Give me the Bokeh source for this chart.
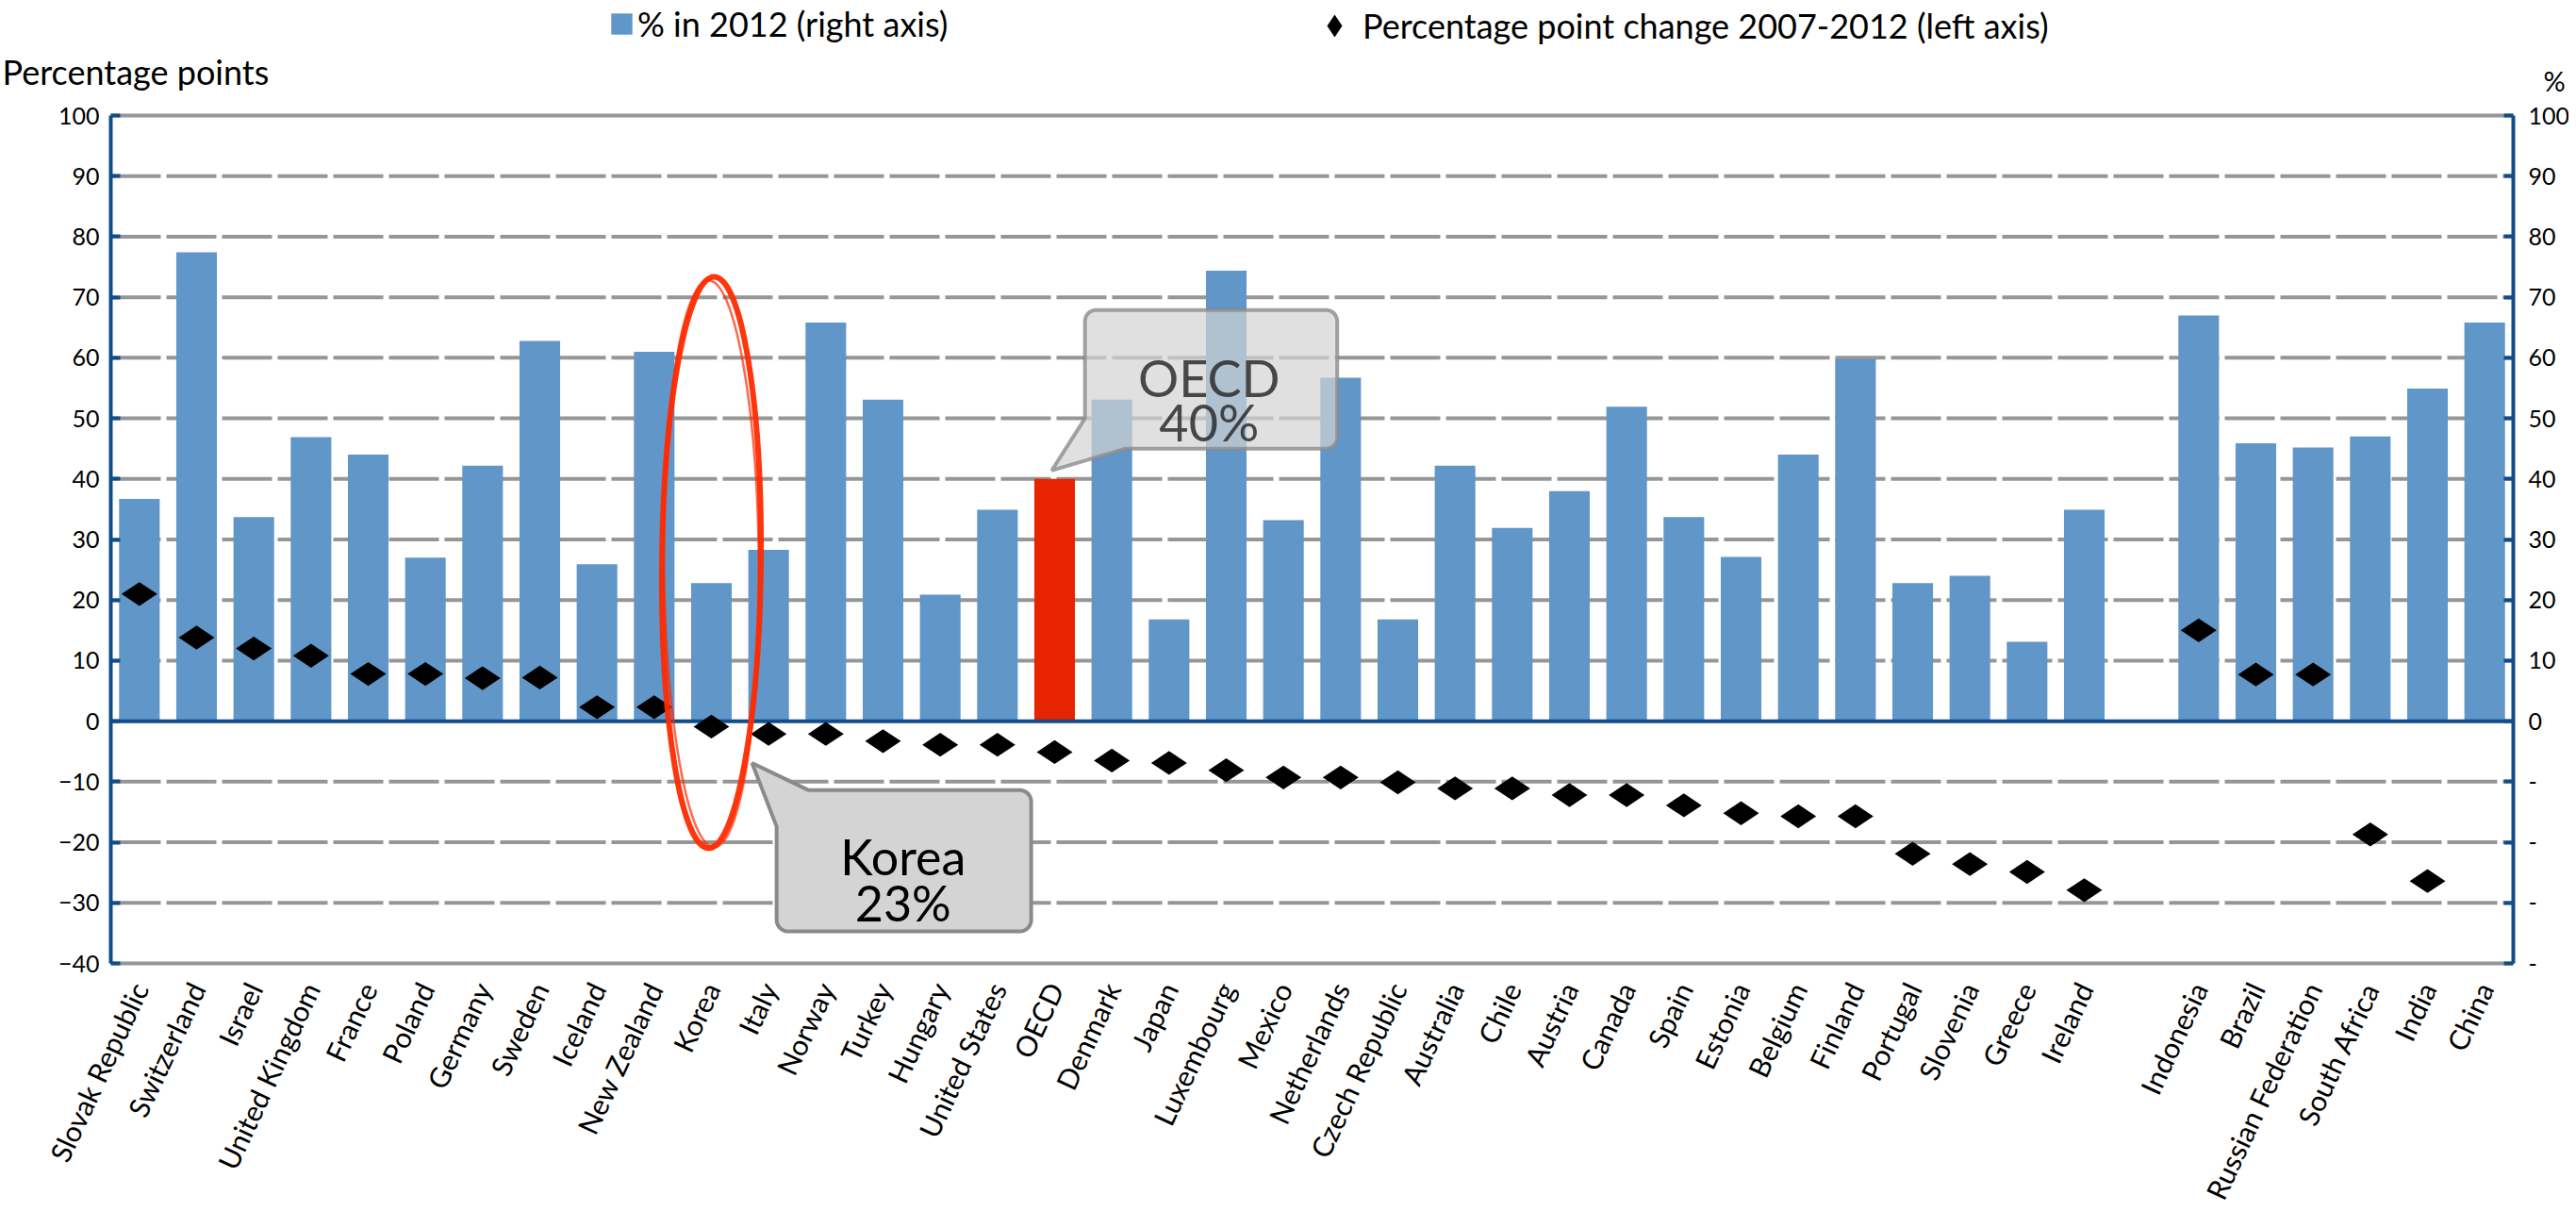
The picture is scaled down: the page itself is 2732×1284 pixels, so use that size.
import math
from bokeh.plotting import figure
from bokeh.models import (Range1d, LinearAxis, FixedTicker, Legend, LegendItem, Label)
from bokeh.embed import file_html
from bokeh.resources import INLINE

# ---------------- data ----------------
countries = ["Slovak Republic", "Switzerland", "Israel", "United Kingdom", "France",
             "Poland", "Germany", "Sweden", "Iceland", "New Zealand", "Korea", "Italy",
             "Norway", "Turkey", "Hungary", "United States", "OECD", "Denmark", "Japan",
             "Luxembourg", "Mexico", "Netherlands", "Czech Republic", "Australia", "Chile",
             "Austria", "Canada", "Spain", "Estonia", "Belgium", "Finland", "Portugal",
             "Slovenia", "Greece", "Ireland", "", "Indonesia", "Brazil",
             "Russian Federation", "South Africa", "India", "China"]

share_2012 = [36.7, 77.4, 33.7, 46.9, 44.0, 27.0, 42.2, 62.8, 25.9, 61.0, 22.8, 28.3,
              65.8, 53.1, 20.9, 34.9, 40.0, 53.1, 16.8, 74.4, 33.2, 56.7, 16.8, 42.2, 31.9,
              38.0, 51.9, 33.7, 27.1, 44.0, 59.8, 22.8, 24.0, 13.1, 34.9, None, 67.0, 45.9,
              45.2, 47.0, 54.9, 65.8]

change_2007_2012 = [21.0, 13.8, 12.0, 10.8, 7.8, 7.8, 7.1, 7.2, 2.3, 2.3, -0.9, -2.1,
                    -2.1, -3.3, -3.9, -3.9, -5.1, -6.5, -6.9, -8.1, -9.3, -9.3, -10.1, -11.1,
                    -11.1, -12.2, -12.2, -13.9, -15.2, -15.7, -15.7, -21.9, -23.6, -24.9,
                    -27.9, None, 15.0, 7.7, 7.7, -18.7, -26.4, None]

y_ticks = [-40, -30, -20, -10, 0, 10, 20, 30, 40, 50, 60, 70, 80, 90, 100]
average_name = "OECD"
highlight_name = "Korea"
legend_bar = "% in 2012 (right axis)"
legend_dot = "Percentage point change 2007-2012 (left axis)"
left_title = "Percentage points"
right_title = "%"

# ---------------- styles / geometry ----------------
FONT = "Lato"
BLUE = "#6096C8"
RED = "#E62400"
AXIS = "#0F4D8A"
GRID = "#969696"

W, H = 2724, 1276                       # canvas
PL, PR, PT, PB = 117, 2665, 122, 1021   # plot area in canvas pixels
N = len(countries)
YMIN, YMAX = y_ticks[0], y_ticks[-1]
SX = (PR - PL) / N
SY = (PB - PT) / (YMAX - YMIN)


def px(xp):   # canvas x pixel -> data x
    return (xp - PL) / SX


def py(yp):   # canvas y pixel -> data y
    return YMAX - (yp - PT) / SY


p = figure(width=W, height=H, title=None,
           x_range=Range1d(px(0), px(W)), y_range=Range1d(py(H), py(0)),
           x_axis_location=None, y_axis_location=None,
           output_backend="svg", toolbar_location=None,
           min_border_left=0, min_border_right=0, min_border_top=0, min_border_bottom=0,
           background_fill_color="white", border_fill_color="white",
           outline_line_color=None)
p.grid.visible = False

# grid lines (dashed), plot-area border lines (solid)
inner = [t for t in y_ticks if YMIN < t < YMAX and t != 0]
p.segment(x0=[0] * len(inner), x1=[N] * len(inner), y0=inner, y1=inner,
          line_color=GRID, line_width=4, line_dash="53 6")
p.segment(x0=[0, 0], x1=[N, N], y0=[YMIN, YMAX], y1=[YMIN, YMAX],
          line_color=GRID, line_width=4)


# axes (fixed at the plot-area edges)
def value_axis(loc, standoff, overrides):
    ax = LinearAxis(fixed_location=loc, bounds=(YMIN, YMAX),
                    ticker=FixedTicker(ticks=y_ticks), major_label_overrides=overrides)
    ax.axis_line_color = AXIS
    ax.axis_line_width = 4
    ax.major_tick_in = 10
    ax.major_tick_out = 0
    ax.major_tick_line_color = AXIS
    ax.major_tick_line_width = 4
    ax.minor_tick_line_color = None
    ax.major_label_text_font = FONT
    ax.major_label_text_font_size = "25px"
    ax.major_label_text_color = "black"
    ax.major_label_standoff = standoff
    return ax


p.add_layout(value_axis(0, 12, {}), "left")
p.add_layout(value_axis(N, 16, {t: "-" for t in y_ticks if t < 0}), "right")

cat_pos = [i + 0.5 for i in range(N)]
xa = LinearAxis(fixed_location=YMIN, bounds=(0, N), ticker=FixedTicker(ticks=cat_pos),
                major_label_overrides={pos: c for pos, c in zip(cat_pos, countries)})
xa.axis_line_color = None
xa.major_tick_line_color = None
xa.minor_tick_line_color = None
xa.major_label_orientation = math.radians(65)
xa.major_label_text_font = FONT
xa.major_label_text_font_size = "30px"
xa.major_label_text_color = "black"
xa.major_label_standoff = 16
p.add_layout(xa, "below")

# bars
bx = [pos for pos, c, s in zip(cat_pos, countries, share_2012) if s is not None and c != average_name]
bt = [s for c, s in zip(countries, share_2012) if s is not None and c != average_name]
ia = countries.index(average_name)
ih = countries.index(highlight_name)
avg_val, hl_val = share_2012[ia], share_2012[ih]
blue = p.vbar(x=bx, top=bt, bottom=0, width=0.71, fill_color=BLUE, line_color=None)
p.vbar(x=[cat_pos[ia]], top=[avg_val], bottom=0, width=0.71, fill_color=RED, line_color=None)

# zero line
p.segment(x0=[0], x1=[N], y0=[0], y1=[0], line_color=AXIS, line_width=4)

# diamonds
dx = [pos for pos, v in zip(cat_pos, change_2007_2012) if v is not None]
dy = [v for v in change_2007_2012 if v is not None]
dots = p.scatter(x=dx, y=dy, marker="diamond", size=38, angle=math.pi / 2,
                 fill_color="black", line_color=None)

# hand-drawn ellipse around the highlighted country
p.ellipse(x=[cat_pos[ih]], y=[26.2], width=[1.73], height=[94.4], angle=[-0.01],
          fill_color=None, line_color="#FF2A00", line_width=6, line_alpha=0.95)
p.ellipse(x=[cat_pos[ih]], y=[26.0], width=[1.66], height=[93.6], angle=[0.01],
          fill_color=None, line_color="#FF2A00", line_width=2.5, line_alpha=0.7)


def corner(cx, cy, a0, a1, r=12, n=8):
    pts = []
    for k in range(n + 1):
        t = math.radians(a0 + (a1 - a0) * k / n)
        pts.append((cx + r * math.cos(t) / SX, cy + r * math.sin(t) / SY))
    return pts


rx, ry = 12 / SX, 12 / SY

# OECD callout
x0, x1, y0, y1 = 17.03, 21.44, 45.0, 67.9
pts = [(16.45, 41.4), (17.74, y0)] + corner(x1 - rx, y0 + ry, -90, 0) + \
      corner(x1 - rx, y1 - ry, 0, 90) + corner(x0 + rx, y1 - ry, 90, 180) + [(x0, 50.0)]
p.patch(x=[q[0] for q in pts], y=[q[1] for q in pts], fill_color="#d3d3d3", fill_alpha=0.7,
        line_color="#8c8c8c", line_alpha=0.8, line_width=4)
for txt, yy in ((average_name, 56.7), (f"{round(avg_val)}%", 49.4)):
    p.add_layout(Label(x=19.2, y=yy, text=txt, text_align="center",
                       text_baseline="alphabetic", text_font=FONT, text_font_size="54px",
                       text_color="#2b2b2b", text_alpha=0.85))

# Korea callout
x0, x1, y0, y1 = 11.64, 16.09, -34.7, -11.4
pts = [(11.21, -6.9), (x0, -17.4)] + corner(x0 + rx, y0 + ry, 180, 270) + \
      corner(x1 - rx, y0 + ry, 270, 360) + corner(x1 - rx, y1 - ry, 0, 90) + [(12.20, y1)]
p.patch(x=[q[0] for q in pts], y=[q[1] for q in pts], fill_color="#d4d4d4", fill_alpha=1.0,
        line_color="#8a8a8a", line_width=4)
for txt, yy in ((highlight_name, -22.3), (f"{round(hl_val)}%", -29.9)):
    p.add_layout(Label(x=13.85, y=yy, text=txt, text_align="center",
                       text_baseline="alphabetic", text_font=FONT, text_font_size="52px",
                       text_color="black"))

# axis titles
p.add_layout(Label(x=px(2), y=py(75), text=left_title, text_align="left",
                   text_baseline="alphabetic", text_font=FONT, text_font_size="36px",
                   text_color="black"))
p.add_layout(Label(x=px(2697), y=py(85), text=right_title, text_align="left",
                   text_baseline="alphabetic", text_font=FONT, text_font_size="29px",
                   text_color="black"))

# legends
leg1 = Legend(items=[LegendItem(label=legend_bar, renderers=[blue])],
              location=(645, H - 47), orientation="horizontal",
              glyph_width=28, glyph_height=28, label_standoff=3, label_height=28,
              label_text_font=FONT, label_text_font_size="36px", label_text_color="black",
              padding=0, margin=0, border_line_color=None, background_fill_alpha=0)
leg2 = Legend(items=[LegendItem(label=legend_dot, renderers=[dots])],
              location=(1385, H - 57), orientation="horizontal",
              glyph_width=60, glyph_height=60, label_standoff=0, label_height=28,
              label_text_font=FONT, label_text_font_size="36px", label_text_color="black",
              padding=0, margin=0, border_line_color=None, background_fill_alpha=0)
p.add_layout(leg1)
p.add_layout(leg2)

open("out.html", "w").write(file_html(p, INLINE))
